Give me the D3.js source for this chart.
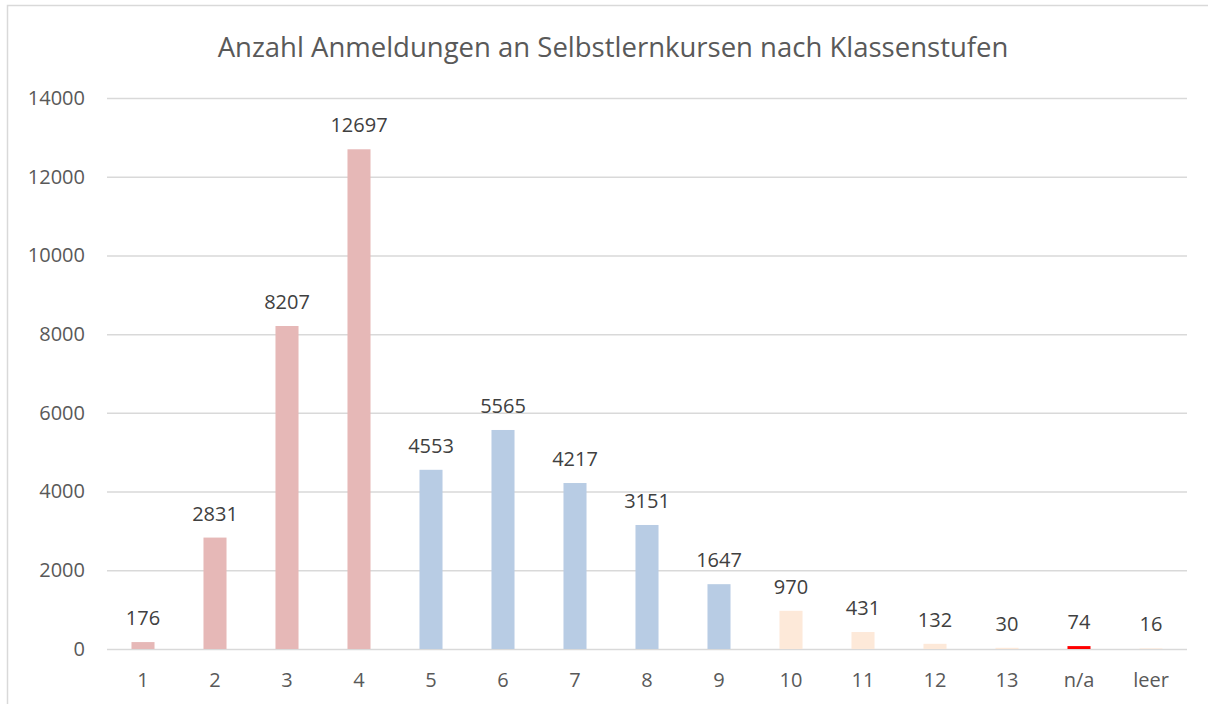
<!DOCTYPE html>
<html>
<head>
<meta charset="utf-8">
<script src="https://cdn.jsdelivr.net/npm/d3@7"></script>
<style>
  body { margin: 0; background: #fff; }
  svg { display: block; font-family: "Open Sans", "Noto Sans", sans-serif; }
</style>
</head>
<body>
<script>
// Klassenstufen und Anzahl Anmeldungen
const categories = ["1", "2", "3", "4", "5", "6", "7", "8", "9", "10", "11", "12", "13", "n/a", "leer"];
const values = [176, 2831, 8207, 12697, 4553, 5565, 4217, 3151, 1647, 970, 431, 132, 30, 74, 16];
const yTicks = [0, 2000, 4000, 6000, 8000, 10000, 12000, 14000];
const title = "Anzahl Anmeldungen an Selbstlernkursen nach Klassenstufen";

const width = 1208, height = 704;
const margin = { top: 98, right: 21, bottom: 55, left: 107 };
const innerW = width - margin.left - margin.right;
const innerH = height - margin.top - margin.bottom;

const colorFor = (c, i) => {
  if (c === "n/a") return "#ff0000";
  if (c === "leer") return "#fde9d9";
  if (i < 4) return "#e6b8b7";
  if (i < 9) return "#b8cce4";
  return "#fde9d9";
};

const svg = d3.select("body").append("svg")
  .attr("width", width)
  .attr("height", height);

// chart frame
svg.append("path")
  .attr("d", "M7.5," + height + "V5.5H" + width)
  .attr("fill", "none")
  .attr("stroke", "#d9d9d9")
  .attr("stroke-width", 1.5);

svg.append("text")
  .attr("x", 613)
  .attr("y", 57)
  .attr("text-anchor", "middle")
  .attr("fill", "#595959")
  .attr("font-size", 27.5)
  .text(title);

const g = svg.append("g")
  .attr("transform", "translate(" + margin.left + "," + margin.top + ")");

const x = d3.scaleBand()
  .domain(categories)
  .range([0, innerW])
  .paddingInner(0.68)
  .paddingOuter(0.34);

const y = d3.scaleLinear()
  .domain([0, 14000])
  .range([innerH, 0]);

// gridlines + y labels
const yAxis = g.append("g")
  .call(d3.axisLeft(y).tickValues(yTicks).tickSize(-innerW).tickPadding(22).tickFormat(d3.format("d")));
yAxis.select(".domain").remove();
yAxis.selectAll(".tick line").attr("stroke", "#d9d9d9").attr("stroke-width", 1.5);
yAxis.selectAll(".tick text")
  .attr("fill", "#595959")
  .attr("font-size", 20)
  .attr("font-family", "Open Sans, sans-serif");

// x labels
const xAxis = g.append("g")
  .attr("transform", "translate(0," + innerH + ")")
  .call(d3.axisBottom(x).tickSize(0).tickPadding(24));
xAxis.select(".domain").remove();
xAxis.selectAll(".tick text")
  .attr("fill", "#595959")
  .attr("font-size", 20)
  .attr("font-family", "Open Sans, sans-serif");

const data = categories.map((c, i) => ({ cat: c, value: values[i], idx: i }));

g.selectAll("rect.bar")
  .data(data)
  .enter()
  .append("rect")
  .attr("class", "bar")
  .attr("x", (d) => x(d.cat))
  .attr("width", x.bandwidth())
  .attr("y", (d) => y(d.value))
  .attr("height", (d) => innerH - y(d.value))
  .attr("fill", (d) => colorFor(d.cat, d.idx));

g.selectAll("text.label")
  .data(data)
  .enter()
  .append("text")
  .attr("class", "label")
  .attr("x", (d) => x(d.cat) + x.bandwidth() / 2)
  .attr("y", (d) => y(d.value) - 17)
  .attr("text-anchor", "middle")
  .attr("fill", "#404040")
  .attr("font-size", 20)
  .text((d) => d.value);
</script>
</body>
</html>
